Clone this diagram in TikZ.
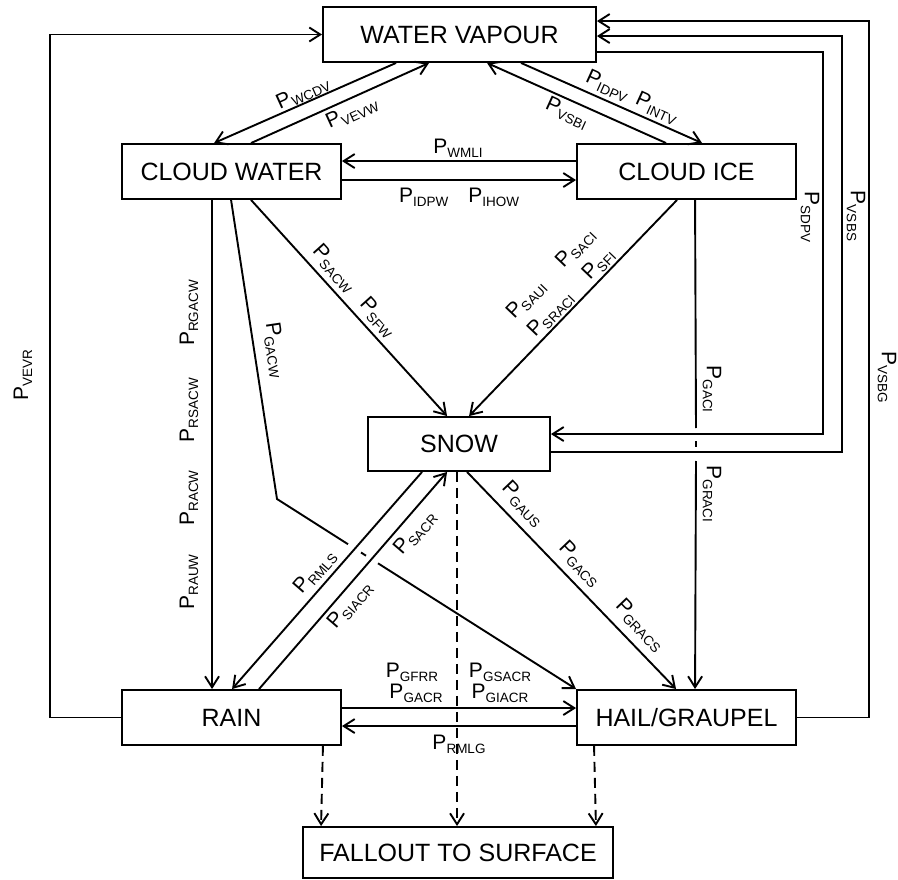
\documentclass[tikz,border=0pt]{standalone}
\usepackage{fontspec}
\setmainfont{Liberation Sans}
\usetikzlibrary{arrows.meta,calc}
\newcommand\rt[1]{{\fontsize{21}{21}\selectfont P}\raisebox{-4pt}{\fontsize{13.5}{13.5}\selectfont #1}}
\begin{document}
\begin{tikzpicture}[x=1pt,y=-1pt,line width=1.9pt,
  >={Straight Barb[length=11pt,width=14pt]},
  box/.style={draw,rectangle,inner sep=0pt,font=\fontsize{25}{25}\selectfont},
  lbl/.style={inner sep=0pt},
  dashconn/.style={->,dash pattern=on 10pt off 6pt}]
\useasboundingbox[fill=white] (0,0) rectangle (898,880);

% boxes
\node[box,minimum width=273pt,minimum height=55pt] (vap) at (459.5,34.5) {WATER VAPOUR};
\node[box,minimum width=219pt,minimum height=55pt] (cw) at (231.5,171.5) {CLOUD WATER};
\node[box,minimum width=219pt,minimum height=55pt] (ci) at (686.5,171.5) {CLOUD ICE};
\node[box,minimum width=182pt,minimum height=54pt] (snow) at (459,444) {SNOW};
\node[box,minimum width=219pt,minimum height=55pt] (rain) at (231.5,717.5) {RAIN};
\node[box,minimum width=219pt,minimum height=55pt] (hail) at (686.5,717.5) {HAIL/GRAUPEL};
\node[box,minimum width=310pt,minimum height=51pt] (fall) at (458,852.5) {FALLOUT TO SURFACE};

% helper coordinates
\coordinate (xl) at (50,0);
\coordinate (xg) at (869,0);
\coordinate (xs) at (842,0);
\coordinate (xd) at (823,0);
\coordinate (vg) at ($(vap.north east)+(0,15)$);
\coordinate (vs) at ($(vap.north east)+(0,30)$);
\coordinate (vd) at ($(vap.north east)+(0,46)$);
\coordinate (sd) at ($(snow.north east)+(0,18)$);
\coordinate (ss) at ($(snow.north east)+(0,36)$);
\coordinate (gb) at (277,499);
\coordinate (g1) at (348,544.2);
\coordinate (g2) at (361,552.5);
\coordinate (g3) at (366,555.7);
\coordinate (g4) at (378,563.3);
\coordinate (k1) at (696,428);
\coordinate (k2) at (696,441);
\coordinate (k3) at (696,447);
\coordinate (k4) at (696,461);

% vapour <-> cloud water / ice
\draw[->] ($(vap.south west)+(74,0)$) -- ($(cw.north west)+(93,0)$);
\draw[->] ($(cw.north west)+(130,0)$) -- ($(vap.south west)+(107,0)$);
\draw[->] ($(ci.north west)+(90,0)$) -- ($(vap.south west)+(165,0)$);
\draw[->] ($(vap.south west)+(199,0)$) -- ($(ci.north west)+(126,0)$);

% cloud water <-> cloud ice
\draw[->] ($(ci.north west)+(0,18)$) -- ($(cw.north east)+(0,18)$);
\draw[->] ($(cw.north east)+(0,37)$) -- ($(ci.north west)+(0,37)$);

% from cloud water
\draw[->] ($(cw.south west)+(91,0)$) -- ($(rain.north west)+(91,0)$);
\draw ($(cw.south west)+(110,0)$) -- (gb) -- (g1);
\draw (g2) -- (g3);
\draw[->] (g4) -- (hail.north west);
\draw[->] ($(cw.south west)+(130,0)$) -- ($(snow.north west)+(80,0)$);

% from cloud ice
\draw[->] ($(ci.south west)+(101,0)$) -- ($(snow.north west)+(102,0)$);
\draw ($(ci.south west)+(119,0)$) -- (k1);
\draw (k2) -- (k3);
\draw[->] (k4) -- ($(hail.north west)+(119,0)$);

% snow <-> rain / hail
\draw[->] ($(snow.south west)+(55,0)$) -- ($(rain.north west)+(111,0)$);
\draw[->] ($(rain.north west)+(138,0)$) -- ($(snow.south west)+(80,0)$);
\draw[->] ($(snow.south west)+(100,0)$) -- ($(hail.north west)+(100,0)$);

% rain <-> hail
\draw[->] ($(rain.north east)+(0,19)$) -- ($(hail.north west)+(0,19)$);
\draw[->] ($(hail.north west)+(0,37)$) -- ($(rain.north east)+(0,37)$);

% outer loops
\draw[->] (rain.west) -- (rain.west -| xl) -- (vap.west -| xl) -- (vap.west);
\draw[->] (hail.east) -- (hail.east -| xg) -- (vg -| xg) -- (vg);
\draw[->] (ss) -- (ss -| xs) -- (vs -| xs) -- (vs);
\draw[->] (vd) -- (vd -| xd) -- (sd -| xd) -- (sd);

% fallout
\draw[dashconn] ($(rain.south east)+(-19,0)$) -- ($(fall.north west)+(19,0)$);
\draw[dashconn] ($(snow.south west)+(90,0)$) -- ($(fall.north west)+(155,0)$);
\draw[dashconn] ($(hail.south west)+(18,0)$) -- ($(fall.north east)+(-18,0)$);

% labels
\node[lbl,rotate=24.3] (l1) at (303,93) {\rt{WCDV}};
\node[lbl,rotate=24.6] (l2) at (352,113) {\rt{VEVW}};
\node[lbl,rotate=-24.4] (l3) at (632,97) {\rt{IDPV}\hspace{9pt}\rt{INTV}};
\node[lbl,rotate=-24.4] (l4) at (567,113) {\rt{VSBI}};
\node[lbl] (l5) at (458,148) {\rt{WMLI}};
\node[lbl] (l6) at (459,197) {\rt{IDPW}\hspace{20pt}\rt{IHOW}};
\node[lbl,rotate=-48] (l7) at (354,291) {\rt{SACW}\hspace{16pt}\rt{SFW}};
\node[lbl,rotate=46.3] (l8) at (551,274) {\rt{SAUI}\hspace{26pt}\rt{SACI}};
\node[lbl,rotate=46.3] (l9) at (571,293) {\rt{SRACI}\hspace{24pt}\rt{SFI}};
\node[lbl,rotate=-90] (l10) at (712,389) {\rt{GACI}};
\node[lbl,rotate=-90] (l11) at (712,494) {\rt{GRACI}};
\node[lbl,rotate=-90] (l12) at (810,217) {\rt{SDPV}};
\node[lbl,rotate=-90] (l13) at (856,216) {\rt{VSBS}};
\node[lbl,rotate=-90] (l14) at (887,377) {\rt{VSBG}};
\node[lbl,rotate=90] (l15) at (23,375) {\rt{VEVR}};
\node[lbl,rotate=90] (l16) at (189,582) {\rt{RAUW}};
\node[lbl,rotate=90] (l17) at (189,498) {\rt{RACW}};
\node[lbl,rotate=90] (l18) at (189,410) {\rt{RSACW}};
\node[lbl,rotate=90] (l19) at (189,313) {\rt{RGACW}};
\node[lbl,rotate=-81.5] (l20) at (275,350) {\rt{GACW}};
\node[lbl,rotate=49] (l21) at (315,572) {\rt{RMLS}};
\node[lbl,rotate=49.4] (l22) at (350,605) {\rt{SIACR}};
\node[lbl,rotate=49.4] (l23) at (415,533) {\rt{SACR}};
\node[lbl,rotate=-46.3] (l24) at (523,504) {\rt{GAUS}};
\node[lbl,rotate=-46.3] (l25) at (580,564) {\rt{GACS}};
\node[lbl,rotate=-46.3] (l26) at (640,625) {\rt{GRACS}};
\node[lbl] (l27) at (412,672) {\rt{GFRR}};
\node[lbl] (l28) at (416,693) {\rt{GACR}};
\node[lbl] (l29) at (500,672) {\rt{GSACR}};
\node[lbl] (l30) at (500,693) {\rt{GIACR}};
\node[lbl] (l31) at (459,744) {\rt{RMLG}};
\end{tikzpicture}
\end{document}
